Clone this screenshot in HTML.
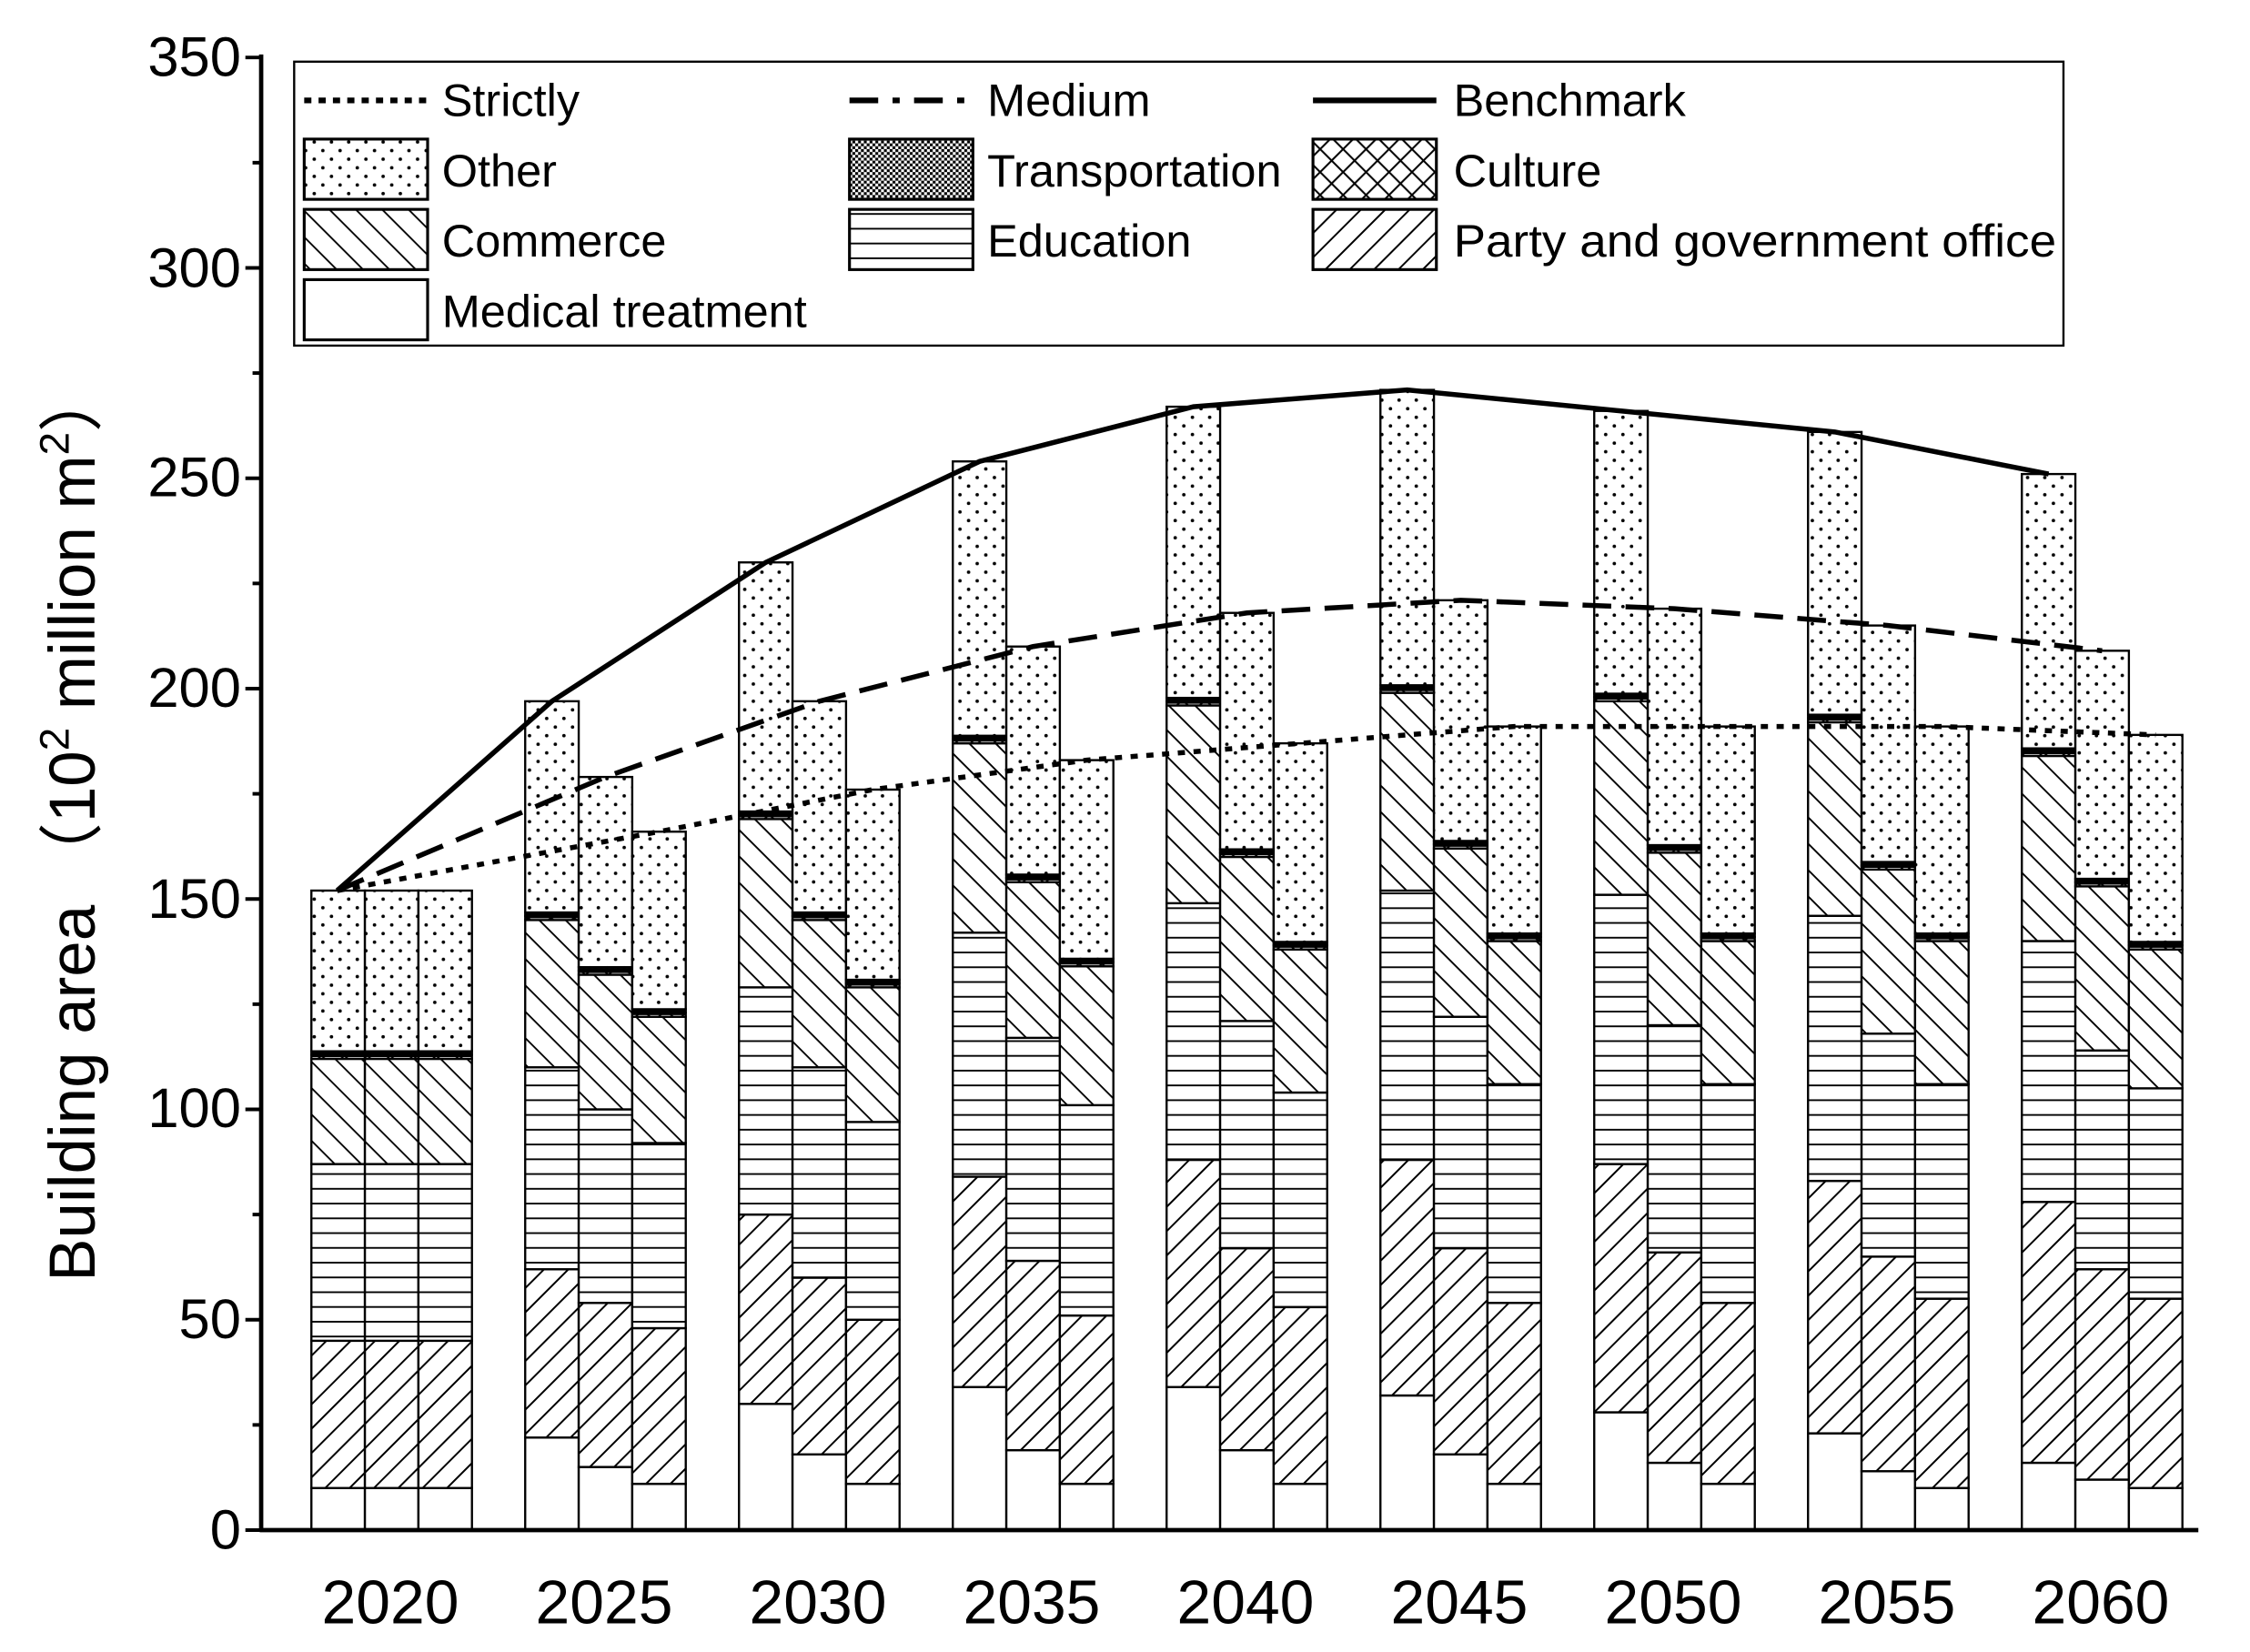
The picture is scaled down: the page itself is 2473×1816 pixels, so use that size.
<!DOCTYPE html>
<html><head><meta charset="utf-8">
<style>
html,body{margin:0;padding:0;background:#fff;}
svg{display:block;}
text{font-family:"Liberation Sans",Arial,sans-serif;fill:#000;}
</style></head>
<body>
<svg id="s" width="2473" height="1816" viewBox="0 0 1568 1152" preserveAspectRatio="none" xmlns="http://www.w3.org/2000/svg">
<defs>
<pattern id="dots" width="12" height="12" patternUnits="userSpaceOnUse">
<rect width="12" height="12" fill="#fff"/>
<circle cx="3" cy="3" r="1.2" fill="#000"/><circle cx="9" cy="9" r="1.2" fill="#000"/>
</pattern>
<pattern id="back" width="13" height="13" patternUnits="userSpaceOnUse" patternTransform="rotate(45)">
<rect width="13" height="13" fill="#fff"/><line x1="0" y1="6" x2="13" y2="6" stroke="#000" stroke-width="1.2"/>
</pattern>
<pattern id="fwd" width="12" height="12" patternUnits="userSpaceOnUse" patternTransform="rotate(-45)">
<rect width="12" height="12" fill="#fff"/><line x1="0" y1="6" x2="12" y2="6" stroke="#000" stroke-width="1.2"/>
</pattern>
<pattern id="hor" width="10" height="10.3" patternUnits="userSpaceOnUse">
<rect width="10" height="10.3" fill="#fff"/><line x1="0" y1="5" x2="10" y2="5" stroke="#000" stroke-width="1.2"/>
</pattern>
<pattern id="trans" width="4" height="4" patternUnits="userSpaceOnUse">
<rect width="4" height="4" fill="#fff"/><rect x="0" y="0" width="2" height="2" fill="#000"/><rect x="2" y="2" width="2" height="2" fill="#000"/>
</pattern>
<pattern id="cross" width="16" height="16" patternUnits="userSpaceOnUse">
<rect width="16" height="16" fill="#fff"/><path d="M0 0L16 16M16 0L0 16" stroke="#000" stroke-width="1.3"/>
</pattern>
</defs>
<g id="bars"></g>
<g id="lines" fill="none" stroke="#000"></g>
<line x1="182" y1="38" x2="182" y2="1067" stroke="#000" stroke-width="3"/>
<line x1="181" y1="1067" x2="1532" y2="1067" stroke="#000" stroke-width="3"/>
<g id="ticks" stroke="#000" stroke-width="2.5"></g>
<g font-size="39" text-anchor="end">
<text x="168" y="1080">0</text>
<text x="168" y="933">50</text>
<text x="168" y="786">100</text>
<text x="168" y="640">150</text>
<text x="168" y="493">200</text>
<text x="168" y="346">250</text>
<text x="168" y="200">300</text>
<text x="168" y="53">350</text>
</g>
<g font-size="43" text-anchor="middle">
<text x="272" y="1132">2020</text>
<text x="421" y="1132">2025</text>
<text x="570" y="1132">2030</text>
<text x="719" y="1132">2035</text>
<text x="868" y="1132">2040</text>
<text x="1017" y="1132">2045</text>
<text x="1166" y="1132">2050</text>
<text x="1315" y="1132">2055</text>
<text x="1464" y="1132">2060</text>
</g>
<text transform="translate(66,575) rotate(-90)" font-size="45" text-anchor="middle">Building area （10<tspan font-size="29" dy="-18">2</tspan><tspan dy="18"> million m</tspan><tspan font-size="29" dy="-18">2</tspan><tspan dy="18">）</tspan></text>
<rect x="205" y="43" width="1233" height="198" fill="#fff" stroke="#000" stroke-width="1.5"/>
<g stroke="#000">
<line x1="212" y1="70" x2="298" y2="70" stroke-width="4" stroke-dasharray="5,5"/>
<line x1="592" y1="70" x2="678" y2="70" stroke-width="4" stroke-dasharray="20,10,5,10"/>
<line x1="915" y1="70" x2="1001" y2="70" stroke-width="4"/>
<g stroke-width="2">
<rect x="212" y="97" width="86" height="42" fill="url(#dots)"/>
<rect x="592" y="97" width="86" height="42" fill="url(#trans)"/>
<rect x="915" y="97" width="86" height="42" fill="url(#cross)"/>
<rect x="212" y="146" width="86" height="42" fill="url(#back)"/>
<rect x="592" y="146" width="86" height="42" fill="url(#hor)"/>
<rect x="915" y="146" width="86" height="42" fill="url(#fwd)"/>
<rect x="212" y="195" width="86" height="42" fill="#fff"/>
</g>
</g>
<g font-size="32">
<text x="308" y="81">Strictly</text>
<text x="688" y="81">Medium</text>
<text x="1013" y="81">Benchmark</text>
<text x="308" y="130">Other</text>
<text x="688" y="130">Transportation</text>
<text x="1013" y="130">Culture</text>
<text x="308" y="179">Commerce</text>
<text x="688" y="179">Education</text>
<text x="1013" y="179" textLength="420" lengthAdjust="spacingAndGlyphs">Party and government office</text>
<text x="308" y="228">Medical treatment</text>
</g>
</svg>
<script>
var NS="http://www.w3.org/2000/svg";
function Y(v){return 1067-v*2.934;}
function el(p,t,a){var e=document.createElementNS(NS,t);for(var k in a)e.setAttribute(k,a[k]);p.appendChild(e);return e;}
var D=[
[[10,45,87,112,152],[10,45,87,112,152],[10,45,87,112,152]],
[[22,62,110,145,197],[15,54,100,132,179],[11,48,92,122,166]],
[[30,75,129,169,230],[18,60,110,145,197],[11,50,97,129,176]],
[[34,84,142,187,254],[19,64,117,154,210],[11,51,101,134,183]],
[[34,88,149,196,267],[19,67,121,160,218],[11,53,104,138,187]],
[[32,88,152,199,271],[18,67,122,162,221],[11,54,106,140,191]],
[[28,87,151,197,266],[16,66,120,161,219],[11,54,106,140,191]],
[[23,83,146,192,261],[14,65,118,157,215],[10,55,106,140,191]],
[[16,78,140,184,251],[12,62,114,153,209],[10,55,105,138,189]]];
var g=document.getElementById('bars');
var W=37.3, pts=[[],[],[]];
for(var i=0;i<9;i++){
 var x0=217+i*149;
 for(var j=0;j<3;j++){
  var x=x0+j*W, d=D[i][j];
  var segs=[[0,d[0],'#fff'],[d[0],d[1],'url(#fwd)'],[d[1],d[2],'url(#hor)'],[d[2],d[3],'url(#back)'],[d[3],d[3]+1,'url(#cross)'],[d[3]+1,d[3]+1.8,'url(#trans)'],[d[3]+1.8,d[4],'url(#dots)']];
  segs.forEach(function(s){el(g,'rect',{x:x,y:Y(s[1]),width:W,height:Y(s[0])-Y(s[1]),fill:s[2],stroke:'#000','stroke-width':1.5});});
  el(g,'line',{x1:x,x2:x+W,y1:Y(d[3]+1),y2:Y(d[3]+1),stroke:'#000','stroke-width':3.5});
  pts[j].push([x+W/2,Y(d[4])]);
 }
}
var lg=document.getElementById('lines');
var styles=[{'stroke-width':3.5},{'stroke-width':3.5,'stroke-dasharray':'20,10'},{'stroke-width':3.5,'stroke-dasharray':'5,6'}];
for(var j=0;j<3;j++){
 var p=pts[j].slice(); p[0]=[235,Y(152)];
 var a=Object.assign({points:p.map(function(q){return q.join(',');}).join(' ')},styles[j]);
 el(lg,'polyline',a);
}
var tg=document.getElementById('ticks');
for(var v=0;v<=350;v+=25){
 el(tg,'line',{x1:v%50==0?171:176,x2:182,y1:Y(v),y2:Y(v)});
}
</script>
</body></html>
